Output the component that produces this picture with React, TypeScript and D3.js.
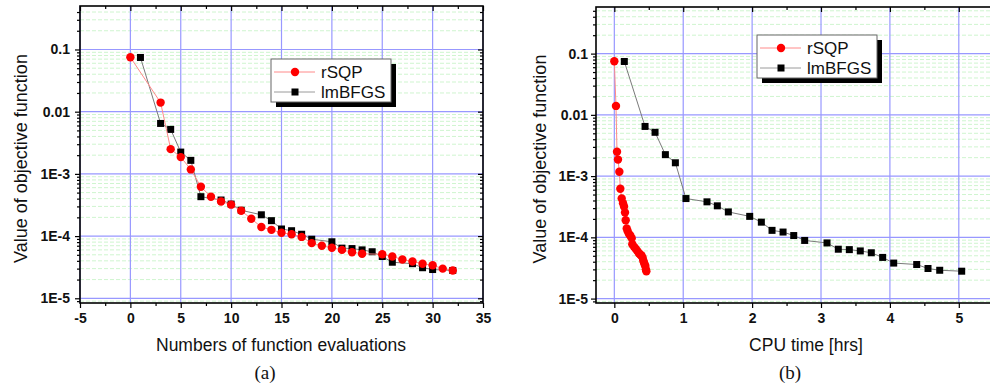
import React, { useEffect, useRef } from 'react';
import * as d3 from 'd3';

// rSQP: evaluation number, objective value, cpu time [hrs]
const rsqpEvals = [0, 3, 4, 5, 6, 7, 8, 9, 10, 11, 12, 13, 14, 15, 16, 17, 18, 19, 20, 21, 22, 23, 25, 26, 27, 28, 29, 30, 31, 32];
const rsqpValues = [0.075, 0.014, 0.0025, 0.00186, 0.00118, 0.00062, 0.00043, 0.00036, 0.00032, 0.000255, 0.00019, 0.00014, 0.000126, 0.000113, 0.000107, 0.000097, 0.000077, 0.00007, 0.000065, 0.00006, 0.000055, 0.000052, 0.000051, 0.000047, 0.000042, 0.000039, 0.000036, 0.000034, 0.00003, 0.000028];
const rsqpTimes = [0, 0.024, 0.039, 0.053, 0.073, 0.087, 0.107, 0.126, 0.141, 0.155, 0.165, 0.18, 0.194, 0.213, 0.232, 0.252, 0.261, 0.286, 0.31, 0.334, 0.358, 0.377, 0.392, 0.41, 0.42, 0.43, 0.44, 0.45, 0.458, 0.465];

// lmBFGS
const lmbfgsEvals = [1, 3, 4, 5, 6, 7, 9, 10, 11, 13, 14, 15, 16, 17, 18, 20, 21, 22, 23, 24, 25, 26, 28, 29, 30, 32];
const lmbfgsValues = [0.0744, 0.00647, 0.00519, 0.00224, 0.00165, 0.00043, 0.00038, 0.000327, 0.00026, 0.00022, 0.000177, 0.00013, 0.000122, 0.000107, 0.000089, 0.000081, 0.000064, 0.000063, 0.00006, 0.000056, 0.000047, 0.000038, 0.000036, 0.000031, 0.000029, 0.000028];
const lmbfgsTimes = [0.145, 0.446, 0.591, 0.741, 0.886, 1.04, 1.345, 1.495, 1.655, 1.965, 2.134, 2.289, 2.449, 2.604, 2.763, 3.087, 3.251, 3.411, 3.57, 3.73, 3.895, 4.055, 4.389, 4.553, 4.723, 5.042];

const seriesNames = ['rSQP', 'lmBFGS'];
const yTickValues = [1e-5, 1e-4, 1e-3, 0.01, 0.1];
const yTickLabels = ['1E-5', '1E-4', '1E-3', '0.01', '0.1'];
const evalTicks = [-5, 0, 5, 10, 15, 20, 25, 30, 35];
const evalMinorTicks = [-2.5, 2.5, 7.5, 12.5, 17.5, 22.5, 27.5, 32.5];
const timeTicks = [0, 1, 2, 3, 4, 5];
const timeMinorTicks = [0.5, 1.5, 2.5, 3.5, 4.5, 5.5];

const SANS = '"Liberation Sans", Arial, Helvetica, sans-serif';
const SERIF = '"Liberation Serif", "Times New Roman", serif';

function drawPanel(svg: any, p: any) {
  const x = d3.scaleLinear().domain(p.xDomain).range([p.x0, p.x1]);
  const y = d3.scaleLog().domain(p.yDomain).range([p.y1, p.y0]);

  // minor log positions
  const minorY: number[] = [];
  yTickValues.concat([1e-6]).forEach(dec => {
    for (let k = 2; k < 10; k++) {
      const v = dec * k;
      if (v > p.yDomain[0] && v < p.yDomain[1]) minorY.push(v);
    }
  });

  const grid = svg.append('g');
  grid.selectAll('.minor-grid')
    .data(minorY)
    .enter()
    .append('line')
    .attr('x1', p.x0).attr('x2', p.x1)
    .attr('y1', (d: number) => y(d)).attr('y2', (d: number) => y(d))
    .attr('stroke', '#cff5cf')
    .attr('stroke-width', 1)
    .attr('stroke-dasharray', '4,2');

  grid.selectAll('.hgrid')
    .data(yTickValues)
    .enter()
    .append('line')
    .attr('x1', p.x0).attr('x2', p.x1)
    .attr('y1', (d: number) => y(d)).attr('y2', (d: number) => y(d))
    .attr('stroke', '#9898ff')
    .attr('stroke-width', 1.2);

  grid.selectAll('.vgrid')
    .data(p.xTicks)
    .enter()
    .append('line')
    .attr('y1', p.y0).attr('y2', p.y1)
    .attr('x1', (d: number) => x(d)).attr('x2', (d: number) => x(d))
    .attr('stroke', '#9898ff')
    .attr('stroke-width', 1.2);

  // series (lmBFGS under rSQP)
  const line = d3.line<[number, number]>()
    .x(d => x(d[0]))
    .y(d => y(d[1]));

  const bPts: [number, number][] = p.bX.map((v: number, i: number) => [v, lmbfgsValues[i]]);
  const rPts: [number, number][] = p.rX.map((v: number, i: number) => [v, rsqpValues[i]]);

  svg.append('path')
    .datum(bPts)
    .attr('d', line)
    .attr('fill', 'none')
    .attr('stroke', '#7a7a7a')
    .attr('stroke-width', 1);
  svg.append('g')
    .selectAll('rect')
    .data(bPts)
    .enter()
    .append('rect')
    .attr('x', (d: any) => x(d[0]) - 3.5)
    .attr('y', (d: any) => y(d[1]) - 3.5)
    .attr('width', 7)
    .attr('height', 7)
    .attr('fill', '#000');

  svg.append('path')
    .datum(rPts)
    .attr('d', line)
    .attr('fill', 'none')
    .attr('stroke', '#ff8a8a')
    .attr('stroke-width', 1);
  svg.append('g')
    .selectAll('circle')
    .data(rPts)
    .enter()
    .append('circle')
    .attr('cx', (d: any) => x(d[0]))
    .attr('cy', (d: any) => y(d[1]))
    .attr('r', 4.2)
    .attr('fill', '#ff0000');

  // axes
  const styleAxis = (g: any) => {
    g.select('.domain').remove();
    g.selectAll('line').attr('stroke', '#000').attr('stroke-width', 1.2);
    g.selectAll('text')
      .style('font-family', SANS)
      .style('font-size', '14px')
      .style('font-weight', 'bold')
      .attr('fill', '#111');
  };

  svg.append('g')
    .attr('transform', `translate(0,${p.y1})`)
    .call(d3.axisBottom(x).tickValues(p.xTicks).tickSize(5).tickPadding(5).tickFormat((d: any) => String(d)))
    .call(styleAxis);
  svg.append('g')
    .attr('transform', `translate(0,${p.y1})`)
    .call(d3.axisBottom(x).tickValues(p.xMinor).tickSize(3).tickFormat(() => ''))
    .call(styleAxis);
  svg.append('g')
    .attr('transform', `translate(0,${p.y0})`)
    .call(d3.axisTop(x).tickValues(p.xTicks).tickSize(-5).tickFormat(() => ''))
    .call(styleAxis);
  svg.append('g')
    .attr('transform', `translate(0,${p.y0})`)
    .call(d3.axisTop(x).tickValues(p.xMinor).tickSize(-3).tickFormat(() => ''))
    .call(styleAxis);

  svg.append('g')
    .attr('transform', `translate(${p.x0},0)`)
    .call(d3.axisLeft(y).tickValues(yTickValues).tickSize(5).tickPadding(p.yPad)
      .tickFormat((d: any, i: number) => yTickLabels[i]))
    .call(styleAxis);
  svg.append('g')
    .attr('transform', `translate(${p.x0},0)`)
    .call(d3.axisLeft(y).tickValues(minorY).tickSize(3).tickFormat(() => ''))
    .call(styleAxis);
  svg.append('g')
    .attr('transform', `translate(${p.x1},0)`)
    .call(d3.axisRight(y).tickValues(yTickValues).tickSize(-5).tickFormat(() => ''))
    .call(styleAxis);
  svg.append('g')
    .attr('transform', `translate(${p.x1},0)`)
    .call(d3.axisRight(y).tickValues(minorY).tickSize(-3).tickFormat(() => ''))
    .call(styleAxis);

  // frame
  svg.append('rect')
    .attr('x', p.x0)
    .attr('y', p.y0)
    .attr('width', p.x1 - p.x0)
    .attr('height', p.y1 - p.y0)
    .attr('fill', 'none')
    .attr('stroke', '#000')
    .attr('stroke-width', 1.6);

  // legend
  const lg = svg.append('g').attr('transform', `translate(${p.legendX},${p.legendY})`);
  lg.append('rect').attr('x', 5).attr('y', 5).attr('width', 120).attr('height', 43).attr('fill', '#000');
  lg.append('rect').attr('x', 0).attr('y', 0).attr('width', 120).attr('height', 43)
    .attr('fill', '#fff').attr('stroke', '#666').attr('stroke-width', 1);
  seriesNames.forEach((name, i) => {
    const ly = 13 + i * 20;
    lg.append('line').attr('x1', 3).attr('x2', 44).attr('y1', ly).attr('y2', ly)
      .attr('stroke', i === 0 ? '#ff8a8a' : '#9a9a9a').attr('stroke-width', 1);
    if (i === 0) {
      lg.append('circle').attr('cx', 24).attr('cy', ly).attr('r', 4.2).attr('fill', '#ff0000');
    } else {
      lg.append('rect').attr('x', 20.5).attr('y', ly - 3.5).attr('width', 7).attr('height', 7).attr('fill', '#000');
    }
    lg.append('text')
      .attr('x', 50)
      .attr('y', ly + 6)
      .style('font-family', SANS)
      .style('font-size', '17px')
      .attr('fill', '#111')
      .text(name);
  });

  // titles
  svg.append('text')
    .attr('transform', `translate(${p.yLabelX},${(p.y0 + p.y1) / 2 + 4}) rotate(-90)`)
    .style('text-anchor', 'middle')
    .style('font-family', SANS)
    .style('font-size', '18px')
    .attr('fill', '#111')
    .text('Value of objective function');

  svg.append('text')
    .attr('x', p.xLabelX)
    .attr('y', 351)
    .style('text-anchor', 'middle')
    .style('font-family', SANS)
    .style('font-size', '17.5px')
    .attr('fill', '#111')
    .text(p.xLabel);

  svg.append('text')
    .attr('x', p.xLabelX - 16)
    .attr('y', 379)
    .style('text-anchor', 'middle')
    .style('font-family', SERIF)
    .style('font-size', '19px')
    .attr('fill', '#111')
    .text(p.caption);
}

export default function App() {
  const ref = useRef<SVGSVGElement>(null);

  useEffect(() => {
    const svg = d3.select(ref.current);
    svg.selectAll('*').remove();
    svg.append('rect').attr('width', 990).attr('height', 387).attr('fill', '#fff');

    drawPanel(svg, {
      x0: 80, x1: 483, y0: 6, y1: 303,
      xDomain: [-5, 35], yDomain: [8.4e-6, 0.5],
      xTicks: evalTicks, xMinor: evalMinorTicks,
      rX: rsqpEvals, bX: lmbfgsEvals,
      yPad: 5, legendX: 271, legendY: 59,
      yLabelX: 27, xLabelX: 281, xLabel: 'Numbers of function evaluations', caption: '(a)'
    });

    drawPanel(svg, {
      x0: 596, x1: 1000, y0: 7, y1: 303,
      xDomain: [-0.266, 5.598], yDomain: [8.47e-6, 0.577],
      xTicks: timeTicks, xMinor: timeMinorTicks,
      rX: rsqpTimes, bX: lmbfgsTimes,
      yPad: 3, legendX: 757, legendY: 35,
      yLabelX: 546, xLabelX: 806, xLabel: 'CPU time [hrs]', caption: '(b)'
    });
  });

  return (
    <svg ref={ref} width={990} height={387}
      style={{ position: 'absolute', left: 0, top: 0, display: 'block' }} />
  );
}
